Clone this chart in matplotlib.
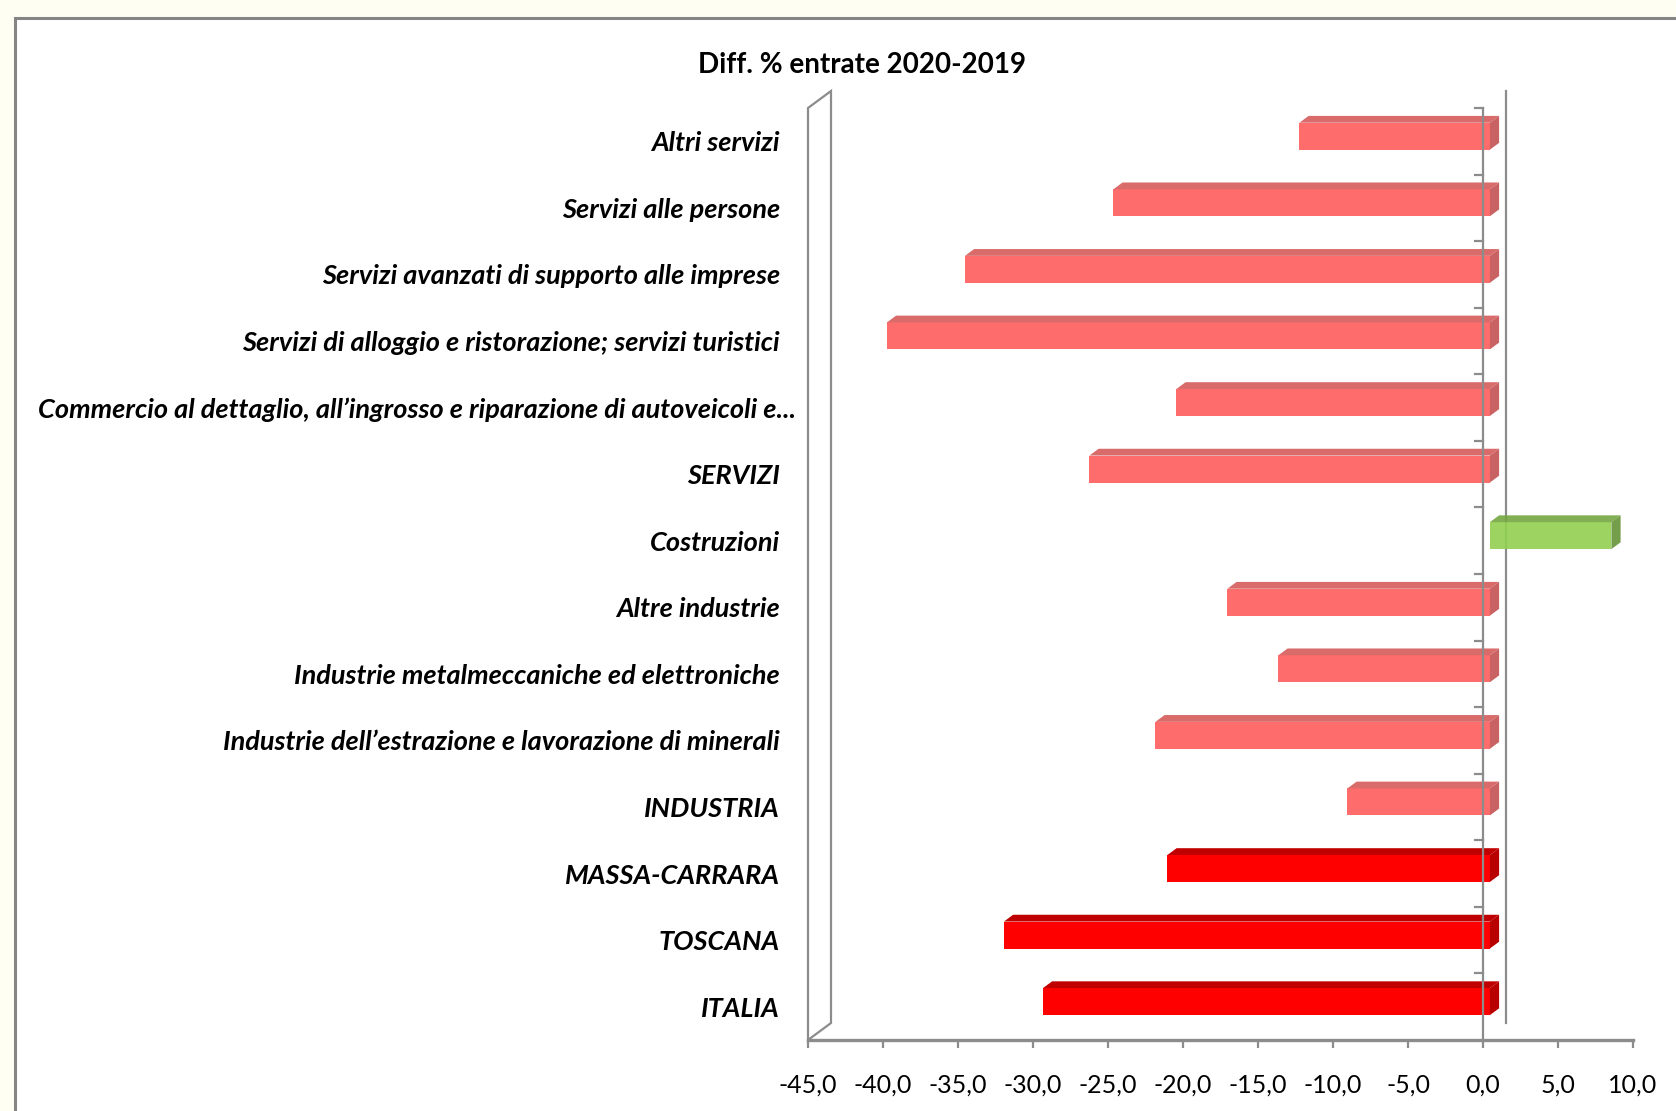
import numpy as np
import matplotlib
matplotlib.use("Agg")
import matplotlib.pyplot as plt
from matplotlib.patches import Polygon, Rectangle

# categories top to bottom, as in the chart
categories = [
    "Altri servizi",
    "Servizi alle persone",
    "Servizi avanzati di supporto alle imprese",
    "Servizi di alloggio e ristorazione; servizi turistici",
    "Commercio al dettaglio, all\u2019ingrosso e riparazione di autoveicoli e...",
    "SERVIZI",
    "Costruzioni",
    "Altre industrie",
    "Industrie metalmeccaniche ed elettroniche",
    "Industrie dell\u2019estrazione e lavorazione di minerali",
    "INDUSTRIA",
    "MASSA-CARRARA",
    "TOSCANA",
    "ITALIA",
]
values = [-12.7, -25.1, -35.0, -40.2, -20.9, -26.7, 8.1,
          -17.5, -14.1, -22.3, -9.5, -21.5, -32.4, -29.8]
territori = ["MASSA-CARRARA", "TOSCANA", "ITALIA"]
xticks = [-45, -40, -35, -30, -25, -20, -15, -10, -5, 0, 5, 10]
title = "Diff. % entrate 2020-2019"

plt.rcParams["font.family"] = ["Lato", "DejaVu Sans"]

W, H = 1676, 1111
fig = plt.figure(figsize=(W / 100, H / 100), dpi=100)
fig.patch.set_facecolor("#FFFEF2")

# chart frame (runs off the right and bottom edges)
fig.patches.append(Rectangle((14.5 / W, -0.05), 1.1, 1 - 17.5 / H + 0.05,
                             transform=fig.transFigure, facecolor="white",
                             edgecolor="#858585", linewidth=2.2, zorder=-5))

left, right = 808 / W, 1633 / W
bottom, top = (H - 1040) / H, (H - 108) / H
ax = fig.add_axes([left, bottom, right - left, top - bottom])
ax.set_zorder(2)
ax.set_facecolor("none")
ax.set_xlim(-45, 10)
n = len(categories)
ax.set_ylim(n - 0.5, -0.5)

# 3d depth offset, in data units (23 px right, 17 px up)
px_x = 55 / (1633 - 808)
px_y = n / (1040 - 108)
dx = 23 * px_x
dy = 17 * px_y
gray = "#8C8C8C"

# left wall
wall = Polygon([(-45, n - 0.5), (-45, -0.5), (-45 + dx, -0.5 - dy), (-45 + dx, n - 0.5 - dy)],
               closed=True, facecolor="white", edgecolor=gray, linewidth=1.6,
               clip_on=False, zorder=1)
ax.add_patch(wall)

# back zero line
ax.plot([dx, dx], [-0.5 - dy, n - 0.5 - dy], color=gray, lw=1.6, clip_on=False, zorder=1)

d0, d1 = 0.3, 0.7
h = 0.405
for i, (cat, v) in enumerate(zip(categories, values)):
    if v >= 0:
        front, topc, side, alpha = "#92D050", "#74A640", "#659436", 0.9
    elif cat in territori:
        front, topc, side, alpha = "#FF0000", "#C00000", "#B80000", 1.0
    else:
        front, topc, side, alpha = "#FF6C6C", "#D96B6B", "#C96262", 1.0
    x0, x1 = min(v, 0), max(v, 0)
    yt = i - h / 2 - dy * d0
    yb = i + h / 2 - dy * d0
    ox0, ox1 = dx * d0, dx * d1
    sh = dy * (d1 - d0)
    ax.add_patch(Polygon([(x0 + ox0, yt), (x1 + ox0, yt), (x1 + ox0, yb), (x0 + ox0, yb)],
                         closed=True, facecolor=front, edgecolor="none", alpha=alpha,
                         clip_on=False, zorder=3))
    ax.add_patch(Polygon([(x0 + ox0, yt), (x1 + ox0, yt), (x1 + ox1, yt - sh), (x0 + ox1, yt - sh)],
                         closed=True, facecolor=topc, edgecolor="none", alpha=alpha,
                         clip_on=False, zorder=3))
    ax.add_patch(Polygon([(x1 + ox0, yt), (x1 + ox1, yt - sh), (x1 + ox1, yb - sh), (x1 + ox0, yb)],
                         closed=True, facecolor=side, edgecolor="none", alpha=alpha,
                         clip_on=False, zorder=3))

# front zero line with category ticks
ax.plot([0, 0], [-0.5, n - 0.5], color=gray, lw=1.6, zorder=4, clip_on=False)
for b in np.arange(-0.5, n - 0.5, 1.0):
    ax.plot([-8 * px_x, 0], [b, b], color=gray, lw=1.6, zorder=4, clip_on=False)

# category labels
ytr = ax.get_yaxis_transform()
for i, cat in enumerate(categories):
    shift = -12 if cat.startswith("Commercio") else -28
    ax.annotate(cat, xy=(0, i), xycoords=ytr, xytext=(shift, -2),
                textcoords="offset pixels", ha="right", va="center",
                fontsize=19.5, fontweight="bold", fontstyle="italic", color="black")

# x axis
for s in ["top", "right", "left"]:
    ax.spines[s].set_visible(False)
ax.spines["bottom"].set_color(gray)
ax.spines["bottom"].set_linewidth(2.4)
ax.set_xticks(xticks)
ax.set_xticklabels([f"{t:.1f}".replace(".", ",") for t in xticks])
ax.tick_params(axis="x", direction="out", length=6, width=1.6, color=gray,
               pad=18, labelsize=18)
ax.set_yticks([])

fig.text(862 / W, 1 - 65 / H, title, ha="center", va="center",
         fontsize=20, fontweight="bold")

fig.savefig("out.png", dpi=100, facecolor=fig.get_facecolor())
